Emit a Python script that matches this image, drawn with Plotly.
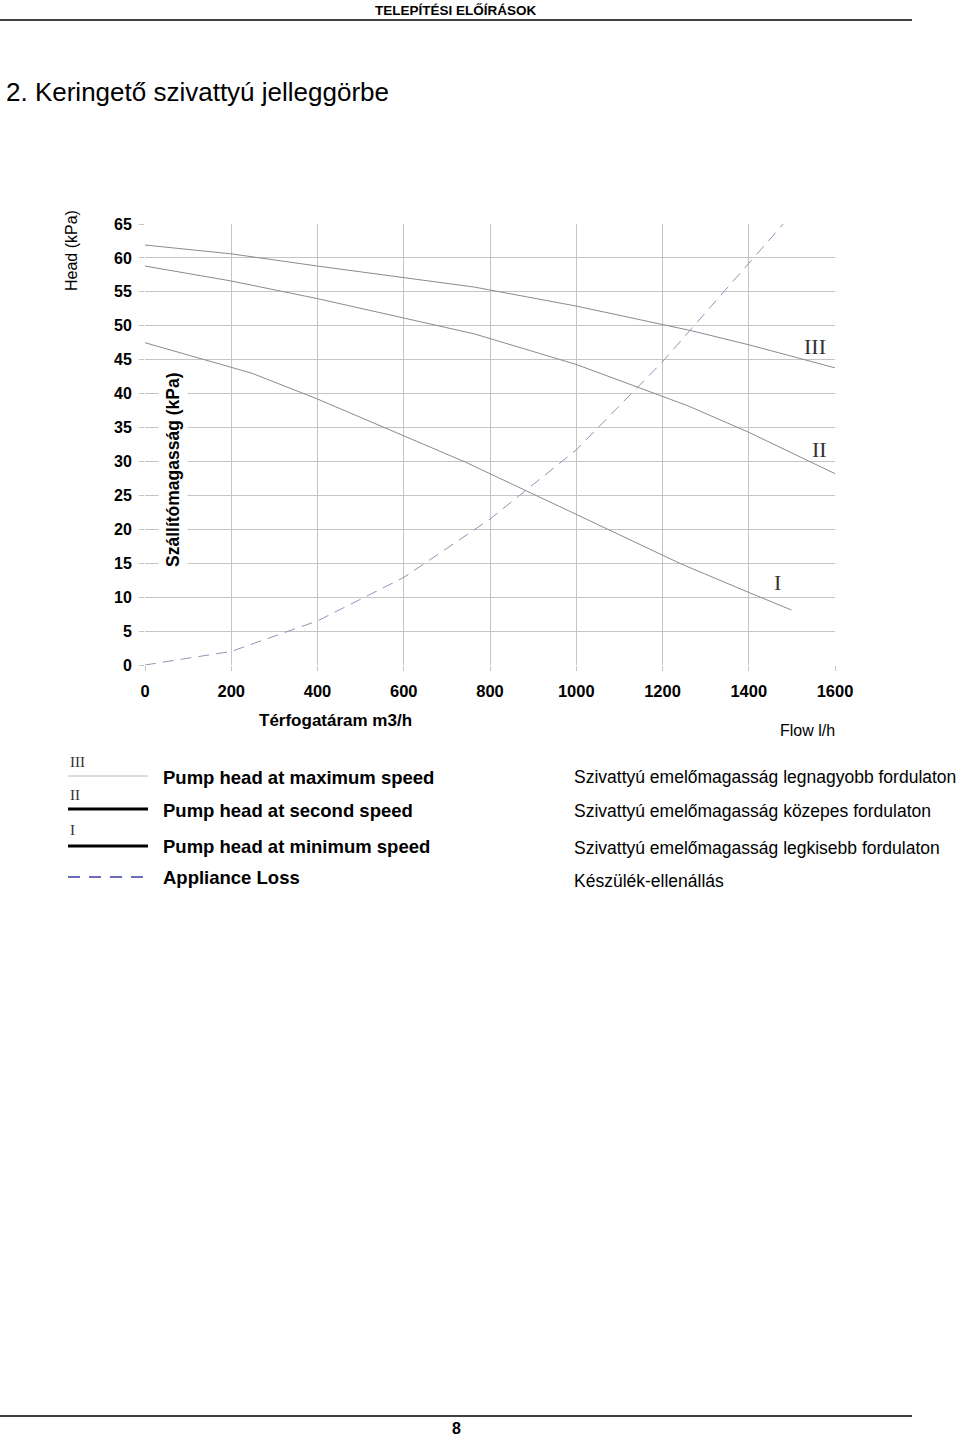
import plotly.graph_objects as go

# ---------------- data (l/h, kPa) ----------------
flow_max = [0, 200, 400, 600, 764, 1000, 1265, 1400, 1600]
head_max = [61.9, 60.6, 58.8, 57.1, 55.7, 52.9, 49.3, 47.2, 43.8]

flow_mid = [0, 200, 400, 600, 764, 1000, 1259, 1400, 1600]
head_mid = [58.8, 56.6, 54.0, 51.2, 48.8, 44.3, 38.2, 34.3, 28.2]

flow_min = [0, 248, 400, 600, 743, 1000, 1243, 1400, 1499]
head_min = [47.5, 43.0, 39.2, 33.8, 29.9, 22.2, 14.9, 10.7, 8.1]

flow_loss = [0, 200, 400, 600, 800, 1000, 1200, 1400, 1480]
head_loss = [0, 2.0, 6.5, 12.9, 21.5, 31.7, 44.7, 59.2, 65.0]

x_ticks = [0, 200, 400, 600, 800, 1000, 1200, 1400, 1600]
y_ticks = [0, 5, 10, 15, 20, 25, 30, 35, 40, 45, 50, 55, 60, 65]

legend_en = ["Pump head at maximum speed", "Pump head at second speed",
             "Pump head at minimum speed", "Appliance Loss"]
legend_hu = ["Szivattyú emelőmagasság legnagyobb fordulaton",
             "Szivattyú emelőmagasság közepes fordulaton",
             "Szivattyú emelőmagasság legkisebb fordulaton",
             "Készülék-ellenállás"]
roman = ["III", "II", "I"]

# ---------------- layout geometry (pixels) ----------------
W, H = 960, 1437
L, R, T, B = 145, 835, 224, 665  # plot area in pixels


def px(x):
    return (x - L) / (R - L)


def py(y):
    return (B - y) / (B - T)


SANS = "Liberation Sans, Arial, sans-serif"
SERIF = "Liberation Serif, Times New Roman, serif"


def text(t, x, y, size, family=SANS, xanchor="center", angle=0, **kw):
    return dict(text=t, x=px(x), y=py(y), xref="paper", yref="paper", xanchor=xanchor,
                yanchor="middle", textangle=angle, showarrow=False,
                font=dict(family=family, size=size, color=kw.pop("color", "black")), **kw)


curve_col = "#8a8a92"
fig = go.Figure()
for xs, ys in [(flow_max, head_max), (flow_mid, head_mid), (flow_min, head_min)]:
    fig.add_trace(go.Scatter(x=xs, y=ys, mode="lines",
                             line=dict(color=curve_col, width=1), showlegend=False))
fig.add_trace(go.Scatter(x=flow_loss, y=head_loss, mode="lines",
                         line=dict(color="#8f95b5", width=1, dash="11px,7px"),
                         showlegend=False))

ann = []
shapes = []

# header / footer
ann.append(text("<b>TELEPÍTÉSI ELŐÍRÁSOK</b>", 456, 10, 13.5))
shapes.append(dict(type="line", xref="paper", yref="paper", x0=px(0), x1=px(912), y0=py(20), y1=py(20),
                   line=dict(color="black", width=1.5)))
ann.append(text("2. Keringető szivattyú jelleggörbe", 4, 92, 26, xanchor="left"))
shapes.append(dict(type="line", xref="paper", yref="paper", x0=px(0), x1=px(912), y0=py(1416), y1=py(1416),
                   line=dict(color="black", width=1.5)))
ann.append(text("<b>8</b>", 456, 1428, 16))

# axis titles
ann.append(text("Head (kPa)", 72, 251, 16, angle=-90))
ann.append(text("<b>Szállítómagasság (kPa)</b>", 173, 470, 17.5, angle=-90,
                bgcolor="white", borderpad=4))
ann.append(text("<b>Térfogatáram m3/h</b>", 335, 720, 17))
ann.append(text("Flow l/h", 807, 730, 16))

# curve roman labels
for t, (x, y) in zip(roman, [(815, 346), (819, 449), (777, 582)]):
    ann.append(text(t, x, y, 22, family=SERIF, color="#333333"))

# legend block
leg_rows = [777, 810, 846, 878]
line_rows = [776, 809, 846, 877]
hu_rows = [777, 811, 848, 881]
styles = [dict(color="#b8b8b8", width=1), dict(color="black", width=3),
          dict(color="black", width=3), dict(color="#3c3ca8", width=1.3, dash="12px,9px")]
for i in range(4):
    shapes.append(dict(type="line", xref="paper", yref="paper", x0=px(68), x1=px(148),
                       y0=py(line_rows[i]), y1=py(line_rows[i]), line=styles[i]))
    ann.append(text("<b>" + legend_en[i] + "</b>", 161, leg_rows[i], 18.5, xanchor="left"))
    ann.append(text(legend_hu[i], 572, hu_rows[i], 17.5, xanchor="left"))
for t, (x, y) in zip(roman, [(68, 762), (68, 795), (68, 830)]):
    ann.append(text(t, x, y, 15, family=SERIF, xanchor="left", color="#333333"))

grid = "#c4c4c4"
fig.update_layout(
    width=W, height=H, margin=dict(l=L, r=W - R, t=T, b=H - B),
    paper_bgcolor="white", plot_bgcolor="white",
    xaxis=dict(range=[0, 1600], tickvals=x_ticks, ticktext=[str(v) for v in x_ticks],
               showgrid=True, gridcolor=grid, gridwidth=1, zeroline=False, showline=False,
               ticks="outside", ticklen=5, tickcolor=grid, ticklabelstandoff=6,
               tickfont=dict(family=SANS, size=16.5, color="black", weight="bold")),
    yaxis=dict(range=[0, 65], tickvals=y_ticks, ticktext=[str(v) for v in y_ticks],
               showgrid=True, gridcolor=grid, gridwidth=1, zeroline=False, showline=False,
               ticks="outside", ticklen=5, tickcolor=grid, ticklabelstandoff=4,
               tickfont=dict(family=SANS, size=16, color="black", weight="bold")),
    annotations=ann, shapes=shapes,
)

fig.write_html("out.html")
